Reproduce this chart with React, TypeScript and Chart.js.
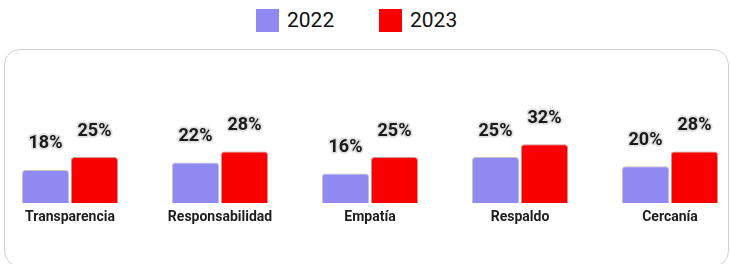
import React, { useEffect, useRef } from "react";
import { Chart, registerables } from "chart.js";

Chart.register(...registerables);

const categories = ["Transparencia", "Responsabilidad", "Empatía", "Respaldo", "Cercanía"];
const seriesLabels = ["2022", "2023"];
const values2022 = [18, 22, 16, 25, 20];
const values2023 = [25, 28, 25, 32, 28];
const seriesColors = ["#8f89f1", "#fa0000"];

const labelPlugin = {
  id: "pctLabels",
  afterDatasetsDraw(chart: any) {
    const ctx = chart.ctx;
    ctx.save();
    ctx.font = "bold 18px Roboto";
    ctx.textAlign = "center";
    ctx.textBaseline = "middle";
    ctx.lineJoin = "round";
    chart.data.datasets.forEach((ds: any, di: number) => {
      const meta = chart.getDatasetMeta(di);
      meta.data.forEach((el: any, i: number) => {
        const txt = ds.data[i] + "%";
        const x = el.x;
        const y = el.y - 26;
        ctx.strokeStyle = "rgba(205,205,205,0.6)";
        ctx.lineWidth = 3.5;
        ctx.strokeText(txt, x, y);
        ctx.fillStyle = "#1a1a1a";
        ctx.fillText(txt, x, y);
      });
    });
    ctx.restore();
  },
};

export default function App() {
  const ref = useRef<HTMLCanvasElement | null>(null);
  useEffect(() => {
    if (!ref.current) return;
    const chart = new Chart(ref.current, {
      type: "bar",
      data: {
        labels: categories,
        datasets: [
          {
            label: seriesLabels[0],
            data: values2022,
            backgroundColor: seriesColors[0],
            borderColor: "rgba(120,120,130,0.45)",
            borderWidth: 1,
            borderRadius: 3,
            clip: false as any,
          },
          {
            label: seriesLabels[1],
            data: values2023,
            backgroundColor: seriesColors[1],
            borderColor: "rgba(150,40,40,0.5)",
            borderWidth: 1,
            borderRadius: 3,
            clip: false as any,
          },
        ],
      },
      options: {
        animation: false,
        responsive: false,
        maintainAspectRatio: false,
        categoryPercentage: 0.653,
        barPercentage: 0.96,
        layout: { padding: { left: 70, right: 60, top: 43, bottom: 0 } },
        plugins: { legend: { display: false }, tooltip: { enabled: false } },
        scales: {
          x: {
            offset: false,
            grid: { display: false, drawTicks: false },
            border: { display: false },
            ticks: {
              padding: 6,
              color: "#1e1e1e",
              font: { family: "Roboto", size: 14, weight: "bold" },
              maxRotation: 0,
              autoSkip: false,
            },
            afterFit: (scale: any) => {
              scale.height = 61;
            },
          },
          y: { display: false, min: 0, max: 87 },
        },
      } as any,
      plugins: [labelPlugin],
    });
    return () => chart.destroy();
  }, []);

  return (
    <div
      style={{
        position: "absolute",
        left: 0,
        top: 0,
        width: 730,
        height: 264,
        overflow: "hidden",
        background: "#fff",
        fontFamily: "Roboto",
      }}
    >
      <div
        style={{
          position: "absolute",
          left: 4,
          top: 49,
          width: 725,
          height: 218,
          border: "1.5px solid #d2d2d2",
          borderRadius: 16,
          boxSizing: "border-box",
        }}
      />
      <div style={{ position: "absolute", left: 256, top: 9, display: "flex" }}>
        {seriesLabels.map((s, i) => (
          <div key={s} style={{ display: "flex", alignItems: "center", width: 123, height: 23 }}>
            <span style={{ width: 23, height: 23, background: seriesColors[i], display: "inline-block", marginRight: 8 }} />
            <span style={{ fontSize: 21, fontWeight: 400, color: "#111", lineHeight: "23px" }}>{s}</span>
          </div>
        ))}
      </div>
      <canvas ref={ref} width={730} height={264} style={{ position: "absolute", left: 0, top: 0 }} />
    </div>
  );
}
